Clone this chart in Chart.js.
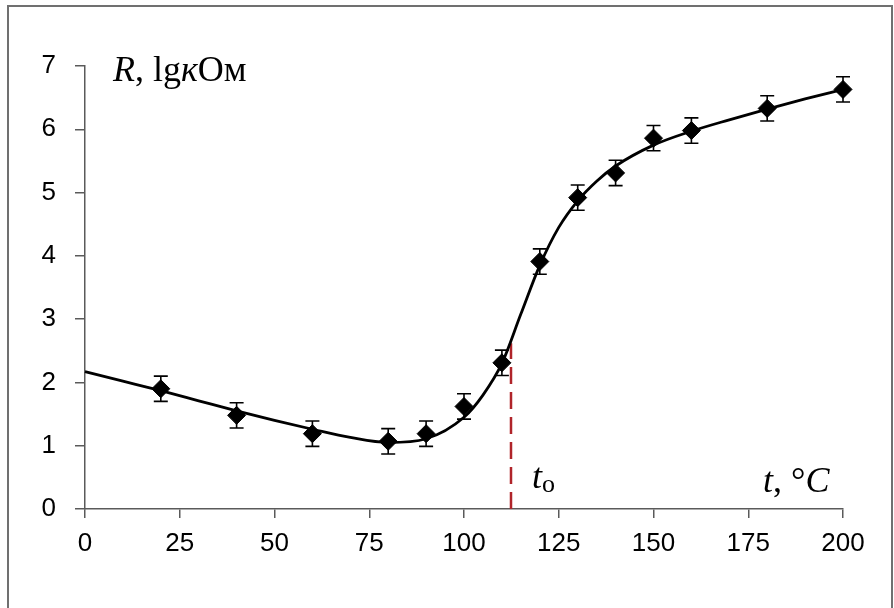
<!DOCTYPE html>
<html>
<head>
<meta charset="utf-8">
<script src="https://cdn.jsdelivr.net/npm/chart.js@4/dist/chart.umd.min.js"></script>
<style>
  html, body { margin: 0; padding: 0; background: #fff; }
  canvas { display: block; }
</style>
</head>
<body>
<canvas id="chart" width="894" height="608"></canvas>
<script>
// measured points (t, °C -> R, lg kOhm) with error bars
const pointT = [20, 40, 60, 80, 90, 100, 110, 120, 130, 140, 150, 160, 180, 200];
const pointR = [1.90, 1.48, 1.19, 1.07, 1.19, 1.62, 2.31, 3.91, 4.92, 5.31, 5.86, 5.98, 6.33, 6.63];
const pointErr = [0.2, 0.2, 0.2, 0.2, 0.2, 0.2, 0.2, 0.2, 0.2, 0.2, 0.2, 0.2, 0.2, 0.2];

// fitted curve
const curveT = [0, 10, 20, 30, 40, 50, 60, 70, 80, 90, 100, 105, 110, 115, 120, 125, 130, 135, 140, 150, 160, 170, 180, 190, 200];
const curveR = [2.17, 2.02, 1.87, 1.71, 1.55, 1.40, 1.26, 1.13, 1.05, 1.11, 1.45, 1.80, 2.30, 3.08, 3.85, 4.45, 4.87, 5.18, 5.42, 5.75, 5.97, 6.15, 6.32, 6.48, 6.63];

// t_o marker line
const markT = [112.4, 112.4];
const markR = [0, 2.62];

const xTicks = [0, 25, 50, 75, 100, 125, 150, 175, 200];
const yTicks = [0, 1, 2, 3, 4, 5, 6, 7];

const axisColor = '#5a5a5a';
const tickFont = { family: 'Liberation Sans, Arial, sans-serif', size: 26 };

function toXY(xs, ys) {
  return xs.map((x, i) => ({ x: x, y: ys[i] }));
}

// error bars + frame + text labels
const extras = {
  id: 'extras',
  beforeDraw(chart) {
    const ctx = chart.ctx;
    ctx.save();
    ctx.fillStyle = '#fff';
    ctx.fillRect(0, 0, chart.width, chart.height);
    ctx.strokeStyle = '#707070';
    ctx.lineWidth = 2;
    ctx.strokeRect(8, 6, 884, 640);
    ctx.restore();
  },
  afterDatasetsDraw(chart) {
    const ctx = chart.ctx;
    const xs = chart.scales.x;
    const ys = chart.scales.y;
    ctx.save();
    ctx.strokeStyle = '#000';
    ctx.lineWidth = 1.6;
    pointT.forEach((t, i) => {
      const px = xs.getPixelForValue(t);
      const top = ys.getPixelForValue(pointR[i] + pointErr[i]);
      const bot = ys.getPixelForValue(pointR[i] - pointErr[i]);
      ctx.beginPath();
      ctx.moveTo(px, top);
      ctx.lineTo(px, bot);
      ctx.moveTo(px - 7, top);
      ctx.lineTo(px + 7, top);
      ctx.moveTo(px - 7, bot);
      ctx.lineTo(px + 7, bot);
      ctx.stroke();
    });
    ctx.restore();
  },
  afterDraw(chart) {
    const ctx = chart.ctx;
    const area = chart.chartArea;
    const xs = chart.scales.x;
    const serif = '"Liberation Serif", "Times New Roman", serif';
    ctx.save();
    ctx.fillStyle = '#000';
    ctx.textBaseline = 'alphabetic';
    ctx.textAlign = 'left';

    function run(parts, x, y) {
      parts.forEach(p => {
        ctx.font = p[1] + ' ' + serif;
        ctx.fillText(p[0], x, y + (p[2] || 0));
        x += ctx.measureText(p[0]).width;
      });
    }

    run([['R', 'italic 36px'], [', lg', '36px'], ['к', 'italic 36px'], ['Ом', '36px']], area.left + 28, area.top + 15);
    run([['t', 'italic 36px'], [', °', '36px'], ['C', 'italic 36px']], area.right - 80, area.bottom - 17);
    run([['t', 'italic 36px'], ['o', '26px', 4]], xs.getPixelForValue(markT[0]) + 21, area.bottom - 21);
    ctx.restore();
  }
};

const ctx = document.getElementById('chart').getContext('2d');
const chart = new Chart(ctx, {
  type: 'scatter',
  data: {
    datasets: [
      {
        type: 'line',
        label: 'to',
        data: toXY(markT, markR),
        borderColor: '#b0242a',
        borderWidth: 2.5,
        borderDash: [17, 8],
        pointRadius: 0,
        fill: false,
        order: 3
      },
      {
        type: 'line',
        label: 'fit',
        data: toXY(curveT, curveR),
        borderColor: '#000',
        borderWidth: 2.8,
        pointRadius: 0,
        tension: 0.4,
        cubicInterpolationMode: 'monotone',
        fill: false,
        clip: false,
        order: 2
      },
      {
        label: 'R',
        data: toXY(pointT, pointR),
        pointStyle: 'rectRot',
        pointRadius: 9,
        pointBackgroundColor: '#000',
        pointBorderColor: '#000',
        showLine: false,
        clip: false,
        order: 1
      }
    ]
  },
  options: {
    responsive: false,
    animation: false,
    events: [],
    layout: { padding: { left: 0, top: 66, right: 51, bottom: 0 } },
    plugins: {
      legend: { display: false },
      tooltip: { enabled: false }
    },
    scales: {
      x: {
        type: 'linear',
        min: 0,
        max: 200,
        afterBuildTicks: s => { s.ticks = xTicks.map(v => ({ value: v })); },
        afterFit: s => {
          s.height = 99;
          s.paddingLeft = 0; s.paddingRight = 0;
        },
        grid: { drawOnChartArea: false, drawTicks: true, tickLength: 9, color: axisColor, lineWidth: 1.5 },
        border: { color: axisColor, width: 1.5 },
        ticks: { font: tickFont, color: '#000', padding: 10, maxRotation: 0 }
      },
      y: {
        min: 0,
        max: 7,
        afterBuildTicks: s => { s.ticks = yTicks.map(v => ({ value: v })); },
        afterFit: s => {
          s.width = 85;
          s.paddingTop = 0; s.paddingBottom = 0;
        },
        grid: { drawOnChartArea: false, drawTicks: true, tickLength: 10, color: axisColor, lineWidth: 1.5 },
        border: { color: axisColor, width: 1.5 },
        ticks: { font: tickFont, color: '#000', padding: 19 }
      }
    }
  },
  plugins: [extras]
});
</script>
</body>
</html>
